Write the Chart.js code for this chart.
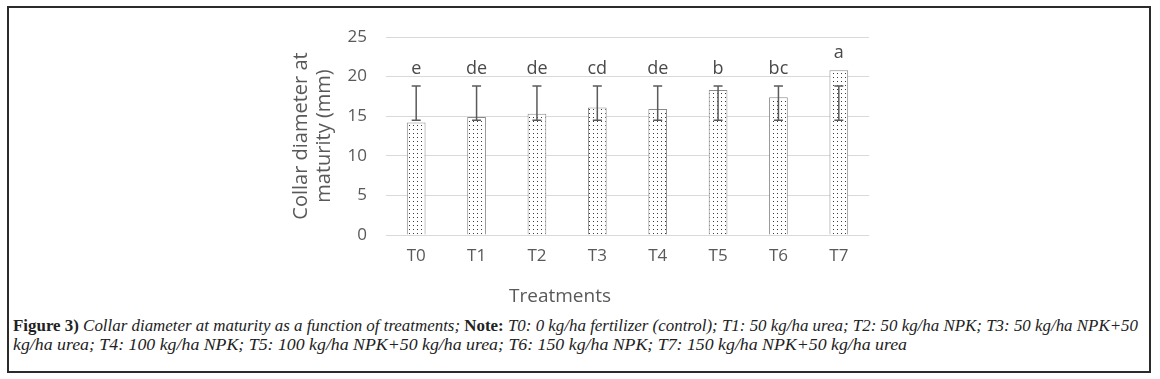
<!DOCTYPE html>
<html>
<head>
<meta charset="utf-8">
<script src="https://cdn.jsdelivr.net/npm/chart.js@4.4.1/dist/chart.umd.min.js"></script>
<style>
  html, body { margin: 0; padding: 0; background: #fff; width: 1160px; height: 379px; overflow: hidden; }
  #frame { position: absolute; left: 7px; top: 6px; width: 1144px; height: 367px; box-sizing: border-box; border: 2px solid #2b2b2b; }
  #wrap { position: absolute; left: 240px; top: 20px; width: 640px; height: 290px; }
  .cap { position: absolute; left: 13px; white-space: nowrap; font-family: "Liberation Serif", "DejaVu Serif", serif; font-size: 16px; color: #222; transform-origin: 0 50%; line-height: 19px; }
  .cap b { font-weight: bold; }
  .cap i { font-style: italic; }
</style>
</head>
<body>
<div id="frame"></div>
<div id="wrap"><canvas id="c" width="640" height="290"></canvas></div>
<div class="cap" id="cap1" style="top:316px;"><b>Figure 3)</b> <i>Collar diameter at maturity as a function of treatments;</i> <b>Note:</b> <i>T0: 0 kg/ha fertilizer (control); T1: 50 kg/ha urea; T2: 50 kg/ha NPK; T3: 50 kg/ha NPK+50</i></div>
<div class="cap" id="cap2" style="top:335px;"><i>kg/ha urea; T4: 100 kg/ha NPK; T5: 100 kg/ha NPK+50 kg/ha urea; T6: 150 kg/ha NPK; T7: 150 kg/ha NPK+50 kg/ha urea</i></div>
<script>
// ---- data ----
const categories = ['T0', 'T1', 'T2', 'T3', 'T4', 'T5', 'T6', 'T7'];
const means = [14.2, 14.9, 15.3, 16.1, 15.9, 18.3, 17.4, 20.8];
const errLow = [14.5, 14.5, 14.5, 14.5, 14.5, 14.5, 14.5, 14.5];
const errHigh = [18.8, 18.8, 18.8, 18.8, 18.8, 18.8, 18.8, 18.8];
const letters = ['e', 'de', 'de', 'cd', 'de', 'b', 'bc', 'a'];
const yMin = 0, yMax = 25, yStep = 5;
const yTitle = ['Collar diameter at', 'maturity (mm)'];
const xTitle = 'Treatments';

// ---- dotted pattern ----
const pc = document.createElement('canvas');
pc.width = 4; pc.height = 4;
const px = pc.getContext('2d');
px.fillStyle = '#ffffff'; px.fillRect(0, 0, 4, 4);
px.fillStyle = '#3a3a3a'; px.fillRect(1, 1, 1, 1);
const pattern = px.createPattern(pc, 'repeat');

const textGray = '#595959';
const font = 'Open Sans';

const overlay = {
  id: 'overlay',
  afterDatasetsDraw(chart) {
    const ctx = chart.ctx;
    const meta = chart.getDatasetMeta(0);
    const ys = chart.scales.y;
    ctx.save();
    // error bars
    ctx.strokeStyle = '#5a5a5a';
    ctx.lineWidth = 1.5;
    meta.data.forEach((bar, i) => {
      const x = bar.x;
      const yl = ys.getPixelForValue(errLow[i]);
      const yh = ys.getPixelForValue(errHigh[i]);
      ctx.beginPath();
      ctx.moveTo(x, yl); ctx.lineTo(x, yh);
      ctx.moveTo(x - 4.5, yl); ctx.lineTo(x + 4.5, yl);
      ctx.moveTo(x - 4.5, yh); ctx.lineTo(x + 4.5, yh);
      ctx.stroke();
    });
    // letters
    ctx.fillStyle = '#4a4a4a';
    ctx.font = '18px "' + font + '"';
    ctx.textAlign = 'center';
    ctx.textBaseline = 'middle';
    meta.data.forEach((bar, i) => {
      const top = ys.getPixelForValue(Math.max(means[i], errHigh[i]));
      ctx.fillText(letters[i], bar.x, top - 17);
    });
    // x title
    ctx.fillStyle = textGray;
    ctx.font = '19px "' + font + '"';
    ctx.fillText(xTitle, chart.width / 2, chart.chartArea.bottom + 62);
    ctx.restore();
  }
};

new Chart(document.getElementById('c'), {
  type: 'bar',
  data: {
    labels: categories,
    datasets: [{
      data: means,
      backgroundColor: pattern,
      borderColor: '#8a8a8a',
      borderWidth: 1,
      barPercentage: 0.31,
      categoryPercentage: 1.0
    }]
  },
  options: {
    responsive: false,
    devicePixelRatio: 1,
    animation: false,
    layout: { padding: { left: 0, right: 11, top: 17, bottom: 0 } },
    plugins: { legend: { display: false }, tooltip: { enabled: false } },
    scales: {
      x: {
        grid: { display: false },
        border: { display: false },
        ticks: { color: textGray, font: { family: font, size: 17 }, padding: 3 },
        afterFit(s) { s.height = 75; s.paddingLeft = 0; s.paddingRight = 0; }
      },
      y: {
        min: yMin, max: yMax,
        grid: { color: '#d9d9d9', lineWidth: 1, drawTicks: false },
        border: { display: false },
        ticks: { stepSize: yStep, color: textGray, font: { family: font, size: 17 }, padding: 19 },
        title: {
          display: true, text: yTitle, color: textGray,
          font: { family: font, size: 20, lineHeight: 1.15 },
          padding: { top: 50, bottom: 0 }
        },
        afterFit(s) { s.width = 146; s.paddingTop = 0; s.paddingBottom = 0; }
      }
    }
  },
  plugins: [overlay]
});

// fit caption lines to the reference widths
function fit(id, w) {
  const el = document.getElementById(id);
  const r = el.getBoundingClientRect().width;
  el.style.transform = 'scaleX(' + (w / r) + ')';
}
fit('cap1', 1125);
fit('cap2', 894);
</script>
</body>
</html>
